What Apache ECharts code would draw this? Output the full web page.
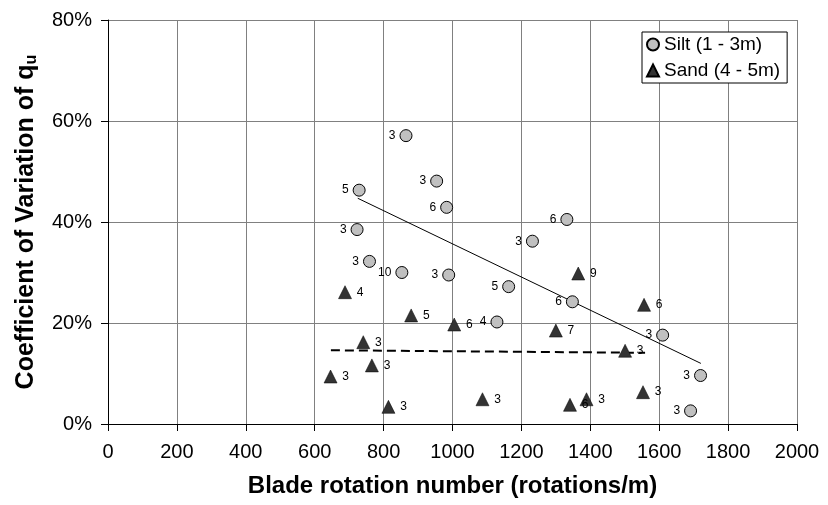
<!DOCTYPE html>
<html><head><meta charset="utf-8">
<script src="https://cdn.jsdelivr.net/npm/echarts@6/dist/echarts.min.js"></script>
<style>html,body{margin:0;padding:0;background:#fff}#c{width:828px;height:505px}</style>
</head><body><div id="c"></div>
<script>
// Silt (1 - 3m): rotation number, CV (%), sample count
const siltX = [865, 729, 954, 983, 723, 1332, 1232, 759, 853, 989, 1163, 1348, 1129, 1610, 1720, 1691];
const siltY = [57.1, 46.3, 48.1, 42.9, 38.5, 40.5, 36.2, 32.2, 30.0, 29.5, 27.2, 24.2, 20.2, 17.6, 9.6, 2.6];
const siltN = [3, 5, 3, 6, 3, 6, 3, 3, 10, 3, 5, 6, 4, 3, 3, 3];
// Sand (4 - 5m)
const sandX = [1365, 688, 1556, 880, 1005, 1300, 741, 1501, 766, 646, 1553, 1087, 1389, 1341, 814];
const sandY = [29.8, 26.1, 23.6, 21.5, 19.7, 18.5, 16.2, 14.5, 11.6, 9.4, 6.3, 4.9, 4.9, 3.8, 3.4];
const sandN = [9, 4, 6, 5, 6, 7, 3, 3, 3, 3, 3, 3, 3, 6, 3];
// Trend lines (endpoints)
const siltTrendX = [725, 1721];
const siltTrendY = [44.7, 12.0];
const sandTrendX = [647, 1559];
const sandTrendY = [14.6, 14.1];
const xTicks = [0, 200, 400, 600, 800, 1000, 1200, 1400, 1600, 1800, 2000];
const yTicks = [0, 20, 40, 60, 80];

const zip3 = (a, b, c) => a.map((v, i) => [v, b[i], c[i]]);
const zip2 = (a, b) => a.map((v, i) => [v, b[i]]);
const F = 'Liberation Sans, Arial, sans-serif';

const chart = echarts.init(document.getElementById('c'), null, {renderer: 'canvas'});
chart.setOption({
  animation: false,
  backgroundColor: '#fff',
  grid: {left: 108, right: 31, top: 20, bottom: 81, show: false},
  legend: {
    orient: 'vertical', left: 642, top: 32,
    data: [{name: 'Silt (1 - 3m)', icon: 'circle'}, {name: 'Sand (4 - 5m)', icon: 'triangle'}],
    itemWidth: 12, itemHeight: 12, itemGap: 7,
    borderColor: '#000', borderWidth: 1, borderRadius: 0,
    padding: [3, 7, 3, 4], backgroundColor: '#fff',
    textStyle: {fontFamily: F, fontSize: 19, color: '#000'}
  },
  xAxis: {
    type: 'value', min: xTicks[0], max: xTicks[xTicks.length - 1], interval: 200,
    name: 'Blade rotation number (rotations/m)', nameLocation: 'middle', nameGap: 50,
    nameTextStyle: {fontFamily: F, fontSize: 24, fontWeight: 'bold', color: '#000'},
    axisLine: {show: true, onZero: false, lineStyle: {color: '#000', width: 1}},
    axisTick: {show: true, inside: false, length: 7, lineStyle: {color: '#000'}},
    axisLabel: {fontFamily: F, fontSize: 20, color: '#000', margin: 18, formatter: v => String(v)},
    splitLine: {show: true, lineStyle: {color: '#808080', width: 1}}
  },
  yAxis: {
    type: 'value', min: yTicks[0], max: yTicks[yTicks.length - 1], interval: 20,
    name: '{a|Coefficient of Variation of q}{b|u}', nameLocation: 'middle', nameGap: 68,
    nameTextStyle: {rich: {
      a: {fontFamily: F, fontSize: 25, fontWeight: 'bold', color: '#000'},
      b: {fontFamily: F, fontSize: 16, fontWeight: 'bold', color: '#000', padding: [11, 0, 0, 0]}
    }},
    axisLine: {show: true, onZero: false, lineStyle: {color: '#000', width: 1}},
    axisTick: {show: true, inside: false, length: 7, lineStyle: {color: '#000'}},
    axisLabel: {fontFamily: F, fontSize: 20, color: '#000', margin: 16, formatter: '{value}%'},
    splitLine: {show: true, lineStyle: {color: '#808080', width: 1}}
  },
  series: [
    {
      name: 'Silt trend', type: 'line', data: zip2(siltTrendX, siltTrendY),
      symbol: 'none', lineStyle: {color: '#000', width: 1}, z: 3, silent: true
    },
    {
      name: 'Sand trend', type: 'line', data: zip2(sandTrendX, sandTrendY),
      symbol: 'none', lineStyle: {color: '#000', width: 2, type: [9, 5]}, z: 3, silent: true
    },
    {
      name: 'Silt (1 - 3m)', type: 'scatter', data: zip3(siltX, siltY, siltN),
      symbol: 'circle', symbolSize: 12,
      itemStyle: {color: '#c0c0c0', borderColor: '#000', borderWidth: 1, opacity: 1},
      label: {show: true, position: 'left', distance: 4, formatter: p => p.data[2],
        fontFamily: F, fontSize: 12, color: '#000'},
      z: 5
    },
    {
      name: 'Sand (4 - 5m)', type: 'scatter', data: zip3(sandX, sandY, sandN),
      symbol: 'triangle', symbolSize: 13,
      itemStyle: {color: '#333333', borderColor: '#000', borderWidth: 0.5, opacity: 1},
      label: {show: true, position: 'right', distance: 5, formatter: p => p.data[2],
        fontFamily: F, fontSize: 12, color: '#000'},
      z: 5
    }
  ]
});
</script></body></html>
